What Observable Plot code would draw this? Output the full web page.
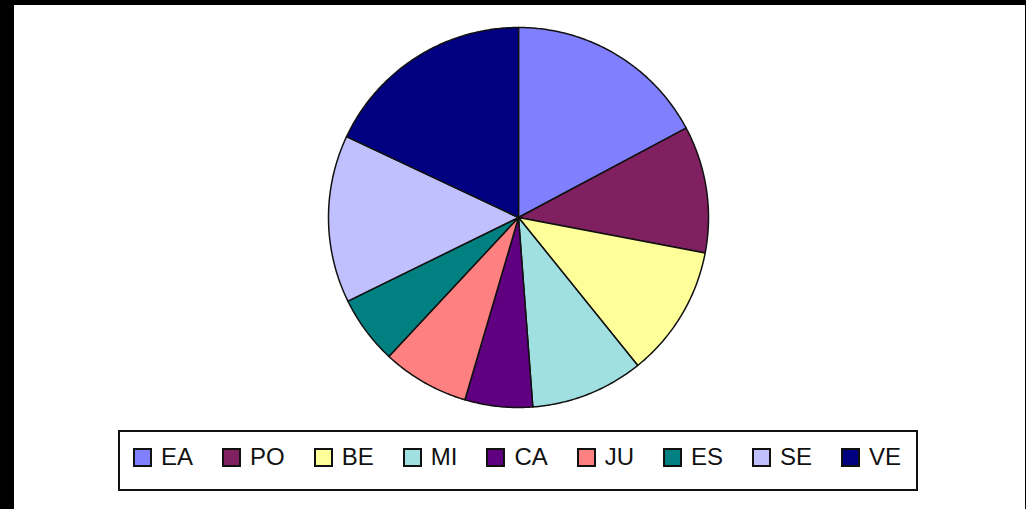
<!DOCTYPE html>
<html>
<head>
<meta charset="utf-8">
<script src="https://cdn.jsdelivr.net/npm/d3@7"></script>
<script src="https://cdn.jsdelivr.net/npm/@observablehq/plot@0.6"></script>
<style>
  html, body { margin: 0; padding: 0; background: #000; width: 1026px; height: 509px; overflow: hidden; }
  #frame { position: absolute; left: 14px; top: 5px; width: 1011px; height: 504px; background: #fff; }
  #chart { position: absolute; left: 0; top: 0; }
  #legend {
    position: absolute; left: 104px; top: 425px; width: 800px; height: 61px;
    box-sizing: border-box; border: 2px solid #111; background: #fff;
    display: flex; align-items: center; padding: 0 0 7px 13px; gap: 29px;
    font-family: "Liberation Sans", Arial, sans-serif; font-size: 24px; color: #111;
  }
  .item { display: flex; align-items: center; gap: 9px; }
  .sw { width: 19px; height: 19px; box-sizing: border-box; border: 2px solid #111; }
</style>
</head>
<body>
<div id="frame">
  <div id="chart"></div>
  <div id="legend"></div>
</div>
<script>
const categories = ["EA", "PO", "BE", "MI", "CA", "JU", "ES", "SE", "VE"];
const values = [17.2, 10.8, 11.2, 9.6, 5.75, 7.4, 5.8, 14.25, 18.0];
const colors = ["#8080FF", "#802060", "#FFFF99", "#A0E0E0", "#600080", "#FF8080", "#008080", "#C0C0FF", "#000080"];

const total = d3.sum(values);
const pts = [];
let acc = 0;
categories.forEach((name, i) => {
  const a0 = acc / total * 2 * Math.PI;
  acc += values[i];
  const a1 = acc / total * 2 * Math.PI;
  const n = Math.max(2, Math.ceil((a1 - a0) / 0.01));
  pts.push({name, x: 0, y: 0});
  for (let k = 0; k <= n; k++) {
    const a = a0 + (a1 - a0) * k / n;
    pts.push({name, x: Math.sin(a), y: Math.cos(a)});
  }
  pts.push({name, x: 0, y: 0});
});

const chart = Plot.plot({
  width: 1011,
  height: 504,
  x: {domain: [-1, 1], range: [314, 694], axis: null},
  y: {domain: [-1, 1], range: [402, 22], axis: null},
  color: {domain: categories, range: colors},
  marks: [
    Plot.line(pts, {x: "x", y: "y", z: "name", fill: "name", stroke: "#111", strokeWidth: 1.5, strokeLinejoin: "round", curve: "linear"})
  ]
});
document.getElementById("chart").appendChild(chart);

const legend = document.getElementById("legend");
categories.forEach((name, i) => {
  const item = document.createElement("div");
  item.className = "item";
  const sw = document.createElement("div");
  sw.className = "sw";
  sw.style.background = colors[i];
  const t = document.createElement("span");
  t.textContent = name;
  item.appendChild(sw);
  item.appendChild(t);
  legend.appendChild(item);
});
</script>
</body>
</html>
